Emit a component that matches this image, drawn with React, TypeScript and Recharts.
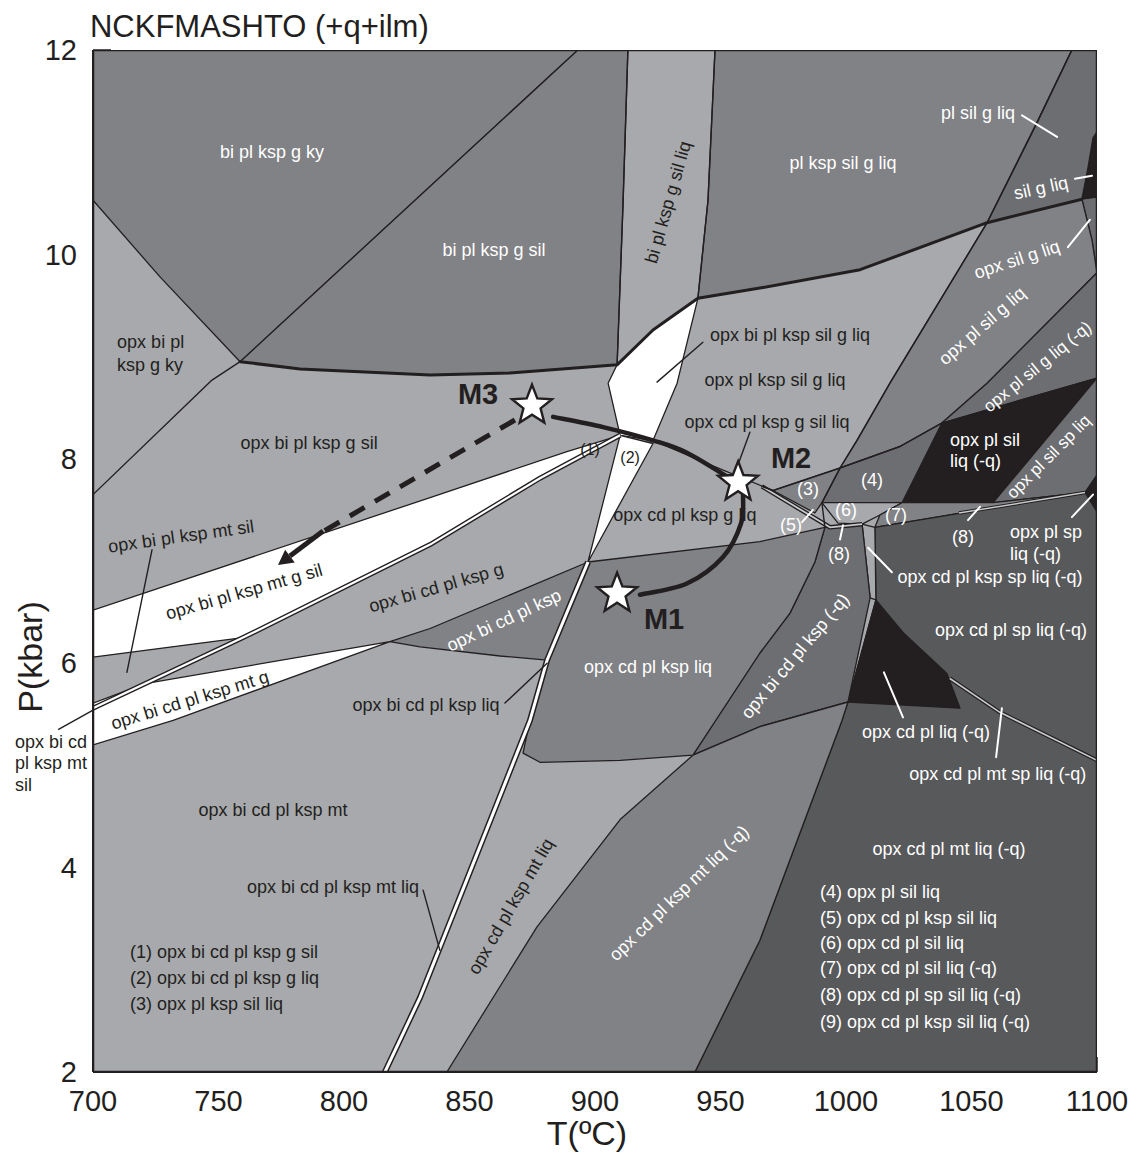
import React from "react";
import { ScatterChart, Scatter, XAxis, YAxis, Label, ReferenceDot, ReferenceLine } from "recharts";

const FONT = '"Liberation Sans", Arial, Helvetica, sans-serif';
const INK = "#231f20";
const LIGHT = "#a7a9ac";
const MID = "#808285";
const DARK = "#6d6e71";
const DARKER = "#58595b";
const BLACK = "#231f20";
const WHITE = "#ffffff";

type XY = [number, number]; // [T (°C), P (kbar)]

const tTicks = [700, 750, 800, 850, 900, 950, 1000, 1050, 1100];
const pTicks = [2, 3, 4, 5, 6, 7, 8, 9, 10, 11, 12];

// ---- assemblage fields (T, P) ----
const plotFrame: XY[] = [[700, 2], [1100, 2], [1100, 12], [700, 12]];
const biPlKspGKy: XY[] = [[700, 12], [893.2, 12], [758.6, 8.95], [726.7, 9.78], [700, 10.53]];
const biPlKspGSil: XY[] = [[893.2, 12], [913.1, 12], [911.1, 10.46], [908.8, 8.92], [866.1, 8.84], [834.3, 8.82], [782.5, 8.88], [758.6, 8.95]];
const plKspSilGLiq: XY[] = [[947.8, 12], [1090, 12], [1076.1, 11.29], [1056.2, 10.31], [1005.6, 9.85], [965.7, 9.67], [941.0, 9.57], [945.0, 10.53]];
const plSilGLiq: XY[] = [[1090, 12], [1100, 12], [1100, 10.56], [1094.0, 10.54], [1056.2, 10.31], [1076.1, 11.29]];
const silGLiq: XY[] = [[1100, 11.2], [1098.4, 11.14], [1096.4, 10.85], [1094.0, 10.54], [1100, 10.56]];
const opxSilGLiq: XY[] = [[1094.0, 10.54], [1100, 10.56], [1100, 9.82], [1098.0, 10.14]];
const opxPlSilGLiq: XY[] = [[1056.2, 10.31], [1094.0, 10.54], [1098.0, 10.14], [1100, 9.82], [1056.2, 8.74], [1038.2, 8.35], [1021.5, 8.12], [997.6, 7.91], [1004.4, 8.18], [1017.5, 8.74]];
const opxPlSilGLiqQ: XY[] = [[1038.2, 8.35], [1056.2, 8.74], [1100, 9.82], [1100, 8.79]];
const opxPlSilLiqQ: XY[] = [[1038.2, 8.35], [1100, 8.79], [1058.6, 7.57], [1022.3, 7.57]];
const opxPlSilSpLiq: XY[] = [[1058.6, 7.57], [1100, 8.79], [1100, 7.84], [1095.2, 7.67]];
const opxPlSpLiqQ: XY[] = [[1095.2, 7.67], [1100, 7.84], [1100, 7.48]];
const field4: XY[] = [[997.6, 7.91], [1021.5, 8.12], [1038.2, 8.35], [1022.3, 7.57], [990.4, 7.57]];
const field3: XY[] = [[970.9, 7.69], [997.6, 7.91], [990.4, 7.57], [987.6, 7.47]];
const field6: XY[] = [[990.4, 7.57], [1022.3, 7.57], [1013.5, 7.45], [1006.4, 7.36], [996.8, 7.37]];
const field7: XY[] = [[1013.5, 7.45], [1022.3, 7.57], [1058.6, 7.57], [1095.2, 7.67], [1011.5, 7.33]];
const opxCdPlMtLiqQ: XY[] = [[1011.5, 7.33], [1095.2, 7.67], [1100, 7.48], [1100, 2], [939.8, 2], [965.7, 3.29], [998.4, 5.44], [1000.8, 5.62], [1011.9, 6.62]];
const opxCdPlKspSpLiqQ: XY[] = [[1006.4, 7.36], [1011.5, 7.33], [1011.9, 6.62], [1009.6, 6.64]];
const opxCdPlLiqQ: XY[] = [[1011.9, 6.62], [1000.8, 5.62], [1045.4, 5.56], [1040.2, 5.9], [1022.7, 6.3]];
const opxBiCdPlKspQ: XY[] = [[991.6, 7.33], [1006.4, 7.36], [1009.6, 6.64], [1000.8, 5.62], [965.7, 5.38], [939.0, 5.1], [947.0, 5.4], [965.7, 6.1], [977.7, 6.49], [987.6, 6.99]];
const opxCdPlKspMtLiqQ: XY[] = [[841.0, 2], [876.9, 3.42], [910.0, 4.47], [939.0, 5.1], [965.7, 5.38], [1000.8, 5.62], [998.4, 5.44], [965.7, 3.29], [939.8, 2]];
const opxCdPlKspLiq: XY[] = [[897.2, 6.99], [965.7, 7.19], [991.6, 7.33], [987.6, 6.99], [977.7, 6.49], [965.7, 6.1], [947.0, 5.4], [939.0, 5.1], [910.0, 5.05], [878.1, 5.03], [871.3, 5.12], [874.1, 5.44], [880.9, 6.03]];
const opxBiCdPlKsp: XY[] = [[818.3, 6.21], [834.3, 6.34], [897.2, 6.99], [880.9, 6.03], [862.2, 6.07], [830.3, 6.16]];
const opxBiPlKspMtGSil: XY[] = [[700, 6.52], [834.3, 7.62], [888.8, 8.07], [910.0, 8.23], [878.1, 7.81], [834.3, 7.16], [759.8, 6.25], [700, 6.06]];
const opxBiCdPlKspMtG: XY[] = [[700, 5.61], [720.7, 5.8], [818.3, 6.21], [731.9, 5.44], [700, 5.2]];
const opxBiPlKspSilGLiq: XY[] = [[908.8, 8.92], [923.1, 9.26], [941.0, 9.57], [932.7, 8.74], [923.1, 8.18], [910.0, 8.23], [905.2, 8.74]];
const field2: XY[] = [[910.0, 8.23], [923.1, 8.15], [897.2, 6.99]];

const fields: { key: string; fill: string; pts: XY[]; edge?: boolean }[] = [
  { key: "frame", fill: LIGHT, pts: plotFrame, edge: false },
  { key: "biPlKspGKy", fill: MID, pts: biPlKspGKy },
  { key: "biPlKspGSil", fill: MID, pts: biPlKspGSil },
  { key: "plKspSilGLiq", fill: MID, pts: plKspSilGLiq },
  { key: "plSilGLiq", fill: DARK, pts: plSilGLiq },
  { key: "silGLiq", fill: BLACK, pts: silGLiq },
  { key: "opxSilGLiq", fill: DARK, pts: opxSilGLiq },
  { key: "opxPlSilGLiq", fill: MID, pts: opxPlSilGLiq },
  { key: "opxPlSilGLiqQ", fill: DARK, pts: opxPlSilGLiqQ },
  { key: "opxPlSilLiqQ", fill: BLACK, pts: opxPlSilLiqQ },
  { key: "opxPlSilSpLiq", fill: DARK, pts: opxPlSilSpLiq },
  { key: "opxPlSpLiqQ", fill: BLACK, pts: opxPlSpLiqQ },
  { key: "field4", fill: DARK, pts: field4 },
  { key: "field3", fill: MID, pts: field3 },
  { key: "field6", fill: LIGHT, pts: field6 },
  { key: "field7", fill: MID, pts: field7 },
  { key: "opxCdPlMtLiqQ", fill: DARKER, pts: opxCdPlMtLiqQ },
  { key: "opxCdPlKspSpLiqQ", fill: LIGHT, pts: opxCdPlKspSpLiqQ },
  { key: "opxCdPlLiqQ", fill: BLACK, pts: opxCdPlLiqQ },
  { key: "opxBiCdPlKspQ", fill: DARK, pts: opxBiCdPlKspQ },
  { key: "opxCdPlKspMtLiqQ", fill: MID, pts: opxCdPlKspMtLiqQ },
  { key: "opxCdPlKspLiq", fill: MID, pts: opxCdPlKspLiq },
  { key: "opxBiCdPlKsp", fill: MID, pts: opxBiCdPlKsp },
  { key: "opxBiPlKspMtGSil", fill: WHITE, pts: opxBiPlKspMtGSil },
  { key: "opxBiCdPlKspMtG", fill: WHITE, pts: opxBiCdPlKspMtG },
  { key: "opxBiPlKspSilGLiq", fill: WHITE, pts: opxBiPlKspSilGLiq },
  { key: "field2", fill: WHITE, pts: field2 },
];

// ---- reaction lines ----
const kySilLine: XY[] = [[700, 7.65], [747.4, 8.77], [758.6, 8.95]];
const liqInLine: XY[] = [[758.6, 8.95], [782.5, 8.88], [834.3, 8.82], [866.1, 8.84], [908.8, 8.92], [923.1, 9.26], [941.0, 9.57], [965.7, 9.67], [1005.6, 9.85], [1056.2, 10.31], [1094.0, 10.54]];
const kspOutLine: XY[] = [[1090, 12], [1076.1, 11.29], [1056.2, 10.31], [1017.5, 8.74], [1004.4, 8.18], [997.6, 7.91], [990.4, 7.57], [991.6, 7.33]];
const bandLeftLine: XY[] = [[913.1, 12], [911.1, 10.46], [908.8, 8.92]];
const bandRightLine: XY[] = [[947.8, 12], [945.0, 10.53], [941.0, 9.57]];
const cdInLine: XY[] = [[966.5, 7.73], [970.9, 7.69], [997.6, 7.91], [1021.5, 8.12], [1038.2, 8.35]];
const gSilLiqLine: XY[] = [[923.1, 8.18], [945.0, 7.95], [970.9, 7.69]];
const edges: { key: string; pts: XY[]; w: number }[] = [
  { key: "kySil", pts: kySilLine, w: 1.4 },
  { key: "bandL", pts: bandLeftLine, w: 1.4 },
  { key: "bandR", pts: bandRightLine, w: 1.4 },
  { key: "kspOut", pts: kspOutLine, w: 1.4 },
  { key: "cdIn", pts: cdInLine, w: 1.4 },
  { key: "gSilLiq", pts: gSilLiqLine, w: 1.2 },
  { key: "liqIn", pts: liqInLine, w: 3 },
];

// narrow fields drawn as double lines
const mtSilSliver: XY[] = [[700, 5.56], [759.8, 6.25], [834.3, 7.16], [878.1, 7.81], [910.0, 8.23]];
const mtLiqSliver: XY[] = [[816.3, 2], [830.3, 2.73], [874.1, 5.44], [880.9, 6.03], [897.2, 6.99]];
const field5Sliver: XY[] = [[966.5, 7.73], [993.6, 7.33], [1006.4, 7.36]];
const field8Sliver: XY[] = [[1045.0, 7.47], [1095.2, 7.67]];
const mtSpSliver: XY[] = [[1041.4, 5.85], [1061.3, 5.52], [1100, 5.05]];
const slivers: { key: string; pts: XY[]; outer: number; inner: number; core: string }[] = [
  { key: "mtSil", pts: mtSilSliver, outer: 5, inner: 2.2, core: WHITE },
  { key: "mtLiq", pts: mtLiqSliver, outer: 6, inner: 3, core: WHITE },
  { key: "f5", pts: field5Sliver, outer: 4.5, inner: 1.8, core: "#c8c9cb" },
  { key: "f8", pts: field8Sliver, outer: 3.5, inner: 1.5, core: "#c8c9cb" },
  { key: "mtSp", pts: mtSpSliver, outer: 4, inner: 1.6, core: "#c8c9cb" },
];

// ---- label leader lines ----
const leaders: { key: string; pts: XY[]; color: string }[] = [
  { key: "l1", pts: [[723.5, 7.11], [713.5, 5.91]], color: INK },
  { key: "l2", pts: [[831.5, 3.78], [838.2, 3.19]], color: INK },
  { key: "l3", pts: [[864.1, 5.61], [880.9, 6.0]], color: INK },
  { key: "l4", pts: [[943.0, 9.14], [924.7, 8.75]], color: INK },
  { key: "l5", pts: [[961.7, 8.26], [955.0, 7.81]], color: INK },
  { key: "w1", pts: [[982.5, 7.38], [986.8, 7.5]], color: WHITE },
  { key: "w2", pts: [[997.6, 7.21], [998.8, 7.35]], color: WHITE },
  { key: "w3", pts: [[1018.3, 6.89], [1008.8, 7.13]], color: WHITE },
  { key: "w4", pts: [[1048.6, 7.4], [1053.4, 7.53]], color: WHITE },
  { key: "w5", pts: [[1090.0, 7.43], [1098.4, 7.65]], color: WHITE },
  { key: "w6", pts: [[1022.7, 5.47], [1015.1, 5.91]], color: WHITE },
  { key: "w7", pts: [[1062.1, 5.56], [1059.8, 5.08]], color: WHITE },
  { key: "w8", pts: [[1070.1, 11.36], [1084.1, 11.15]], color: WHITE },
  { key: "w9", pts: [[1091.2, 10.74], [1098.0, 10.77]], color: WHITE },
  { key: "w10", pts: [[1088.4, 10.07], [1097.2, 10.34]], color: WHITE },
];
// leader that leaves the plot on the left
const outsideLeader: XY[] = [[686.1, 5.35], [703.6, 5.59]];

// ---- P–T path ----
const pathM3M2: XY[] = [[883.3, 8.41], [903.2, 8.31], [923.1, 8.18], [936.6, 8.06], [955.0, 7.79]];
const pathM2M1: XY[] = [[959.0, 7.65], [958.2, 7.37], [951.0, 7.04], [936.6, 6.78], [917.9, 6.67]];
const retroPath: XY[] = [[868.1, 8.38], [790.4, 7.27], [773.7, 6.96]];
const stages = [
  { name: "M3", t: 874.9, p: 8.52, lt: 853.4, lp: 8.63 },
  { name: "M2", t: 957.0, p: 7.77, lt: 978.1, lp: 8.01 },
  { name: "M1", t: 908.8, p: 6.68, lt: 927.5, lp: 6.43 },
];

// ---- field names ----
type Lbl = { text: string; t: number; p: number; angle?: number; anchor?: string; color?: string; size?: number; bold?: boolean };
const darkLabels: Lbl[] = [
  { text: "opx bi pl", t: 709.6, p: 9.14, anchor: "start" },
  { text: "ksp g ky", t: 709.6, p: 8.92, anchor: "start" },
  { text: "opx bi pl ksp g sil", t: 786.1, p: 8.15 },
  { text: "opx bi pl ksp mt sil", t: 735.1, p: 7.24, angle: -8 },
  { text: "opx bi pl ksp mt g sil", t: 760.2, p: 6.7, angle: -16 },
  { text: "opx bi cd pl ksp g", t: 836.7, p: 6.74, angle: -16 },
  { text: "opx bi cd pl ksp mt g", t: 738.6, p: 5.64, angle: -17 },
  { text: "opx bi cd pl ksp mt", t: 771.7, p: 4.56 },
  { text: "opx bi cd pl ksp mt liq", t: 795.6, p: 3.81 },
  { text: "(1) opx bi cd pl ksp g sil", t: 714.7, p: 3.17, anchor: "start" },
  { text: "(2) opx bi cd pl ksp g liq", t: 714.7, p: 2.92, anchor: "start" },
  { text: "(3) opx pl ksp sil liq", t: 714.7, p: 2.67, anchor: "start" },
  { text: "opx bi cd pl ksp liq", t: 832.7, p: 5.59 },
  { text: "opx cd pl ksp mt liq", t: 866.5, p: 3.62, angle: -60 },
  { text: "bi pl ksp g sil liq", t: 929.1, p: 10.51, angle: -74 },
  { text: "opx bi pl ksp sil g liq", t: 977.7, p: 9.21 },
  { text: "opx pl ksp sil g liq", t: 971.7, p: 8.77 },
  { text: "opx cd pl ksp g sil liq", t: 968.5, p: 8.36 },
  { text: "opx cd pl ksp g liq", t: 935.8, p: 7.45 },
  { text: "(1)", t: 898.0, p: 8.09, size: 16 },
  { text: "(2)", t: 914.0, p: 8.01, size: 16 },
];
const lightLabels: Lbl[] = [
  { text: "bi pl ksp g ky", t: 771.3, p: 11.0 },
  { text: "bi pl ksp g sil", t: 859.8, p: 10.04 },
  { text: "pl ksp sil g liq", t: 998.8, p: 10.89 },
  { text: "pl sil g liq", t: 1052.6, p: 11.38 },
  { text: "sil g liq", t: 1077.7, p: 10.65, angle: -12 },
  { text: "opx sil g liq", t: 1068.1, p: 9.95, angle: -18 },
  { text: "opx pl sil g liq", t: 1054.2, p: 9.3, angle: -41 },
  { text: "opx pl sil g liq (-q)", t: 1076.3, p: 8.9, angle: -39, size: 17 },
  { text: "opx pl sil", t: 1041.4, p: 8.18, anchor: "start" },
  { text: "liq (-q)", t: 1041.4, p: 7.98, anchor: "start" },
  { text: "opx pl sil sp liq", t: 1080.8, p: 8.02, angle: -45, size: 17 },
  { text: "(3)", t: 984.9, p: 7.7 },
  { text: "(4)", t: 1010.4, p: 7.79 },
  { text: "(5)", t: 978.1, p: 7.35 },
  { text: "(6)", t: 1000.0, p: 7.5 },
  { text: "(7)", t: 1019.9, p: 7.45 },
  { text: "(8)", t: 997.2, p: 7.07 },
  { text: "(8)", t: 1046.6, p: 7.23 },
  { text: "opx pl sp", t: 1065.3, p: 7.28, anchor: "start" },
  { text: "liq (-q)", t: 1065.3, p: 7.07, anchor: "start" },
  { text: "opx cd pl ksp sp liq (-q)", t: 1057.4, p: 6.84 },
  { text: "opx cd pl sp liq (-q)", t: 1065.7, p: 6.32 },
  { text: "opx bi cd pl ksp (-q)", t: 979.7, p: 6.07, angle: -50 },
  { text: "opx cd pl ksp mt liq (-q)", t: 933.5, p: 3.75, angle: -44 },
  { text: "opx bi cd pl ksp", t: 863.7, p: 6.42, angle: -25 },
  { text: "opx cd pl ksp liq", t: 921.1, p: 5.96 },
  { text: "opx cd pl liq (-q)", t: 1031.9, p: 5.33 },
  { text: "opx cd pl mt sp liq (-q)", t: 1060.5, p: 4.92 },
  { text: "opx cd pl mt liq (-q)", t: 1041.0, p: 4.18 },
  { text: "(4) opx pl sil liq", t: 989.6, p: 3.76, anchor: "start" },
  { text: "(5) opx cd pl ksp sil liq", t: 989.6, p: 3.51, anchor: "start" },
  { text: "(6) opx cd pl sil liq", t: 989.6, p: 3.26, anchor: "start" },
  { text: "(7) opx cd pl sil liq (-q)", t: 989.6, p: 3.02, anchor: "start" },
  { text: "(8) opx cd pl sp sil liq (-q)", t: 989.6, p: 2.75, anchor: "start" },
  { text: "(9) opx cd pl ksp sil liq (-q)", t: 989.6, p: 2.49, anchor: "start" },
];
// texts placed outside the plot frame
const outsideLabels: Lbl[] = [
  { text: "NCKFMASHTO (+q+ilm)", t: 698.8, p: 12.23, anchor: "start", size: 31 },
  { text: "opx bi cd", t: 668.9, p: 5.23, anchor: "start" },
  { text: "pl ksp mt", t: 668.9, p: 5.02, anchor: "start" },
  { text: "sil", t: 668.9, p: 4.81, anchor: "start" },
];

const toData = (pts: XY[]) => pts.map(([t, p]) => ({ t, p }));
const noDot = () => <g />;

type Pt = { x: number; y: number };
const linear = (pts: Pt[], closed: boolean) =>
  pts.map((q, i) => `${i ? "L" : "M"}${q.x.toFixed(1)},${q.y.toFixed(1)}`).join(" ") + (closed ? " Z" : "");

// Catmull-Rom spline through the points
const smooth = (pts: Pt[]) => {
  let d = `M${pts[0].x},${pts[0].y}`;
  for (let i = 0; i < pts.length - 1; i++) {
    const p0 = pts[i - 1] || pts[i];
    const p1 = pts[i];
    const p2 = pts[i + 1];
    const p3 = pts[i + 2] || p2;
    d += ` C${p1.x + (p2.x - p0.x) / 6},${p1.y + (p2.y - p0.y) / 6} ${p2.x - (p3.x - p1.x) / 6},${p2.y - (p3.y - p1.y) / 6} ${p2.x},${p2.y}`;
  }
  return d;
};

const areaLine = (fill: string, edge: boolean) => (props: any) => (
  <path d={linear(props.points, true)} fill={fill} stroke={edge ? INK : "none"} strokeWidth={1.3} strokeLinejoin="round" />
);
const edgeLine = (color: string, w: number) => (props: any) => (
  <path d={linear(props.points, false)} fill="none" stroke={color} strokeWidth={w} strokeLinejoin="round" strokeLinecap="round" />
);
const doubleLine = (outer: number, inner: number, core: string) => (props: any) => {
  const d = linear(props.points, false);
  return (
    <g>
      <path d={d} fill="none" stroke={INK} strokeWidth={outer} strokeLinejoin="round" />
      <path d={d} fill="none" stroke={core} strokeWidth={inner} strokeLinejoin="round" />
    </g>
  );
};
const curveLine = (props: any) => (
  <path d={smooth(props.points)} fill="none" stroke={INK} strokeWidth={4.5} strokeLinecap="round" />
);
const arrowLine = (props: any) => {
  const [a, b, tip] = props.points as Pt[];
  const dx = tip.x - b.x;
  const dy = tip.y - b.y;
  const len = Math.hypot(dx, dy);
  const ux = dx / len;
  const uy = dy / len;
  const baseX = tip.x - ux * 15;
  const baseY = tip.y - uy * 15;
  const head = `M${tip.x},${tip.y} L${baseX - uy * 8},${baseY + ux * 8} L${baseX + uy * 8},${baseY - ux * 8} Z`;
  return (
    <g>
      <path d={`M${a.x},${a.y} L${b.x},${b.y}`} stroke={INK} strokeWidth={5} strokeDasharray="17 12" fill="none" />
      <path d={`M${b.x - ux * 4},${b.y - uy * 4} L${baseX},${baseY}`} stroke={INK} strokeWidth={5} fill="none" />
      <path d={head} fill={INK} />
    </g>
  );
};

const renderLabel = (cx: number, cy: number, l: Lbl, color: string) => (
  <text
    x={cx}
    y={cy}
    transform={l.angle ? `rotate(${l.angle} ${cx} ${cy})` : undefined}
    textAnchor={l.anchor || "middle"}
    dominantBaseline="central"
    fontSize={l.size || 18}
    fontWeight={l.bold ? 700 : 400}
    fill={l.color || color}
    fontFamily={FONT}
  >
    {l.text}
  </text>
);
const labelShape = (color: string) => (props: any) => renderLabel(props.cx, props.cy, props.payload as Lbl, color);

const starShape = (props: any) => {
  const { cx, cy } = props;
  const pts: string[] = [];
  for (let i = 0; i < 10; i++) {
    const r = i % 2 === 0 ? 21 : 9;
    const a = -Math.PI / 2 + (i * Math.PI) / 5;
    pts.push(`${(cx + r * Math.cos(a)).toFixed(1)},${(cy + r * Math.sin(a)).toFixed(1)}`);
  }
  return <polygon points={pts.join(" ")} fill={WHITE} stroke={INK} strokeWidth={2.4} strokeLinejoin="miter" />;
};

const stageLabelShape = (props: any) => {
  const { cx, cy, payload } = props;
  return (
    <text x={cx} y={cy} textAnchor="middle" dominantBaseline="central" fontSize={29} fontWeight={700} fill={INK} fontFamily={FONT}>
      {payload.name}
    </text>
  );
};

const tickStyle = { fontSize: 29, fill: INK, fontFamily: FONT };

export default function App() {
  return (
    <div style={{ width: 1130, height: 1148 }}>
      <ScatterChart width={1130} height={1148} margin={{ top: 42, right: 41, bottom: 24, left: 25 }}>
        <XAxis
          type="number"
          dataKey="t"
          domain={[700, 1100]}
          ticks={tTicks}
          interval={0}
          allowDataOverflow
          height={60}
          tickSize={-15}
          tickMargin={33}
          tick={tickStyle}
          axisLine={{ stroke: INK, strokeWidth: 2 }}
          tickLine={{ stroke: INK, strokeWidth: 1.5 }}
        >
          <Label
            content={({ viewBox }: any) => (
              <text x={viewBox.x + viewBox.width / 2 - 8} y={viewBox.y + viewBox.height + 13} textAnchor="middle" fontSize={34} fill={INK} fontFamily={FONT}>
                T(ºC)
              </text>
            )}
          />
        </XAxis>
        <YAxis
          type="number"
          dataKey="p"
          domain={[2, 12]}
          ticks={pTicks}
          interval={0}
          allowDataOverflow
          width={60}
          tickSize={-18}
          tickMargin={34}
          tick={tickStyle}
          tickFormatter={(v: number) => (v % 2 === 0 ? String(v) : "")}
          axisLine={{ stroke: INK, strokeWidth: 2 }}
          tickLine={{ stroke: INK, strokeWidth: 1.5 }}
        >
          <Label
            content={({ viewBox }: any) => {
              const x = viewBox.x - 3;
              const y = viewBox.y + viewBox.height / 2 + 96;
              return (
                <text x={x} y={y} transform={`rotate(-90 ${x} ${y})`} textAnchor="middle" dominantBaseline="central" fontSize={34} fill={INK} fontFamily={FONT}>
                  P(kbar)
                </text>
              );
            }}
          />
        </YAxis>

        {fields.map((f) => (
          <Scatter key={f.key} data={toData(f.pts)} shape={noDot} line={areaLine(f.fill, f.edge !== false)} isAnimationActive={false} />
        ))}
        {slivers.map((s) => (
          <Scatter key={s.key} data={toData(s.pts)} shape={noDot} line={doubleLine(s.outer, s.inner, s.core)} isAnimationActive={false} />
        ))}
        {edges.map((e) => (
          <Scatter key={e.key} data={toData(e.pts)} shape={noDot} line={edgeLine(INK, e.w)} isAnimationActive={false} />
        ))}
        {leaders.map((l) => (
          <Scatter key={l.key} data={toData(l.pts)} shape={noDot} line={edgeLine(l.color, l.color === WHITE ? 2 : 1.4)} isAnimationActive={false} />
        ))}

        <Scatter data={darkLabels} shape={labelShape(INK)} isAnimationActive={false} />
        <Scatter data={lightLabels} shape={labelShape(WHITE)} isAnimationActive={false} />

        <Scatter data={toData(retroPath)} shape={noDot} line={arrowLine} isAnimationActive={false} />
        <Scatter data={toData(pathM3M2)} shape={noDot} line={curveLine} isAnimationActive={false} />
        <Scatter data={toData(pathM2M1)} shape={noDot} line={curveLine} isAnimationActive={false} />
        <Scatter data={stages} shape={starShape} isAnimationActive={false} />
        <Scatter data={stages.map((s) => ({ name: s.name, t: s.lt, p: s.lp }))} shape={stageLabelShape} isAnimationActive={false} />

        <Scatter data={toData(plotFrame)} shape={noDot} line={(props: any) => <path d={linear(props.points, true)} fill="none" stroke={INK} strokeWidth={2.5} />} isAnimationActive={false} />

        <ReferenceLine
          segment={outsideLeader.map(([t, p]) => ({ x: t, y: p }))}
          ifOverflow="visible"
          stroke={INK}
          strokeWidth={1.4}
        />
        {outsideLabels.map((l) => (
          <ReferenceDot
            key={l.text}
            x={l.t}
            y={l.p}
            r={0}
            ifOverflow="visible"
            shape={(props: any) => renderLabel(props.cx, props.cy, l, INK)}
          />
        ))}
      </ScatterChart>
    </div>
  );
}
